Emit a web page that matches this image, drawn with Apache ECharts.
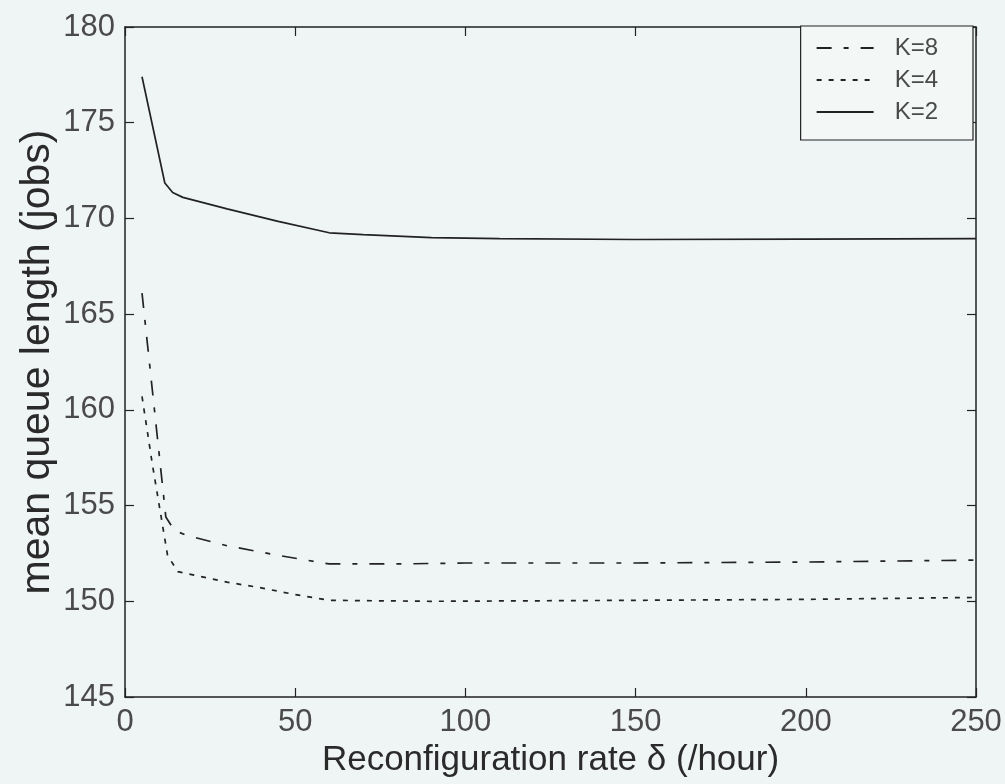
<!DOCTYPE html>
<html>
<head>
<meta charset="utf-8">
<script src="https://cdn.jsdelivr.net/npm/echarts@6/dist/echarts.min.js"></script>
<style>
  html, body { margin: 0; padding: 0; background: #eff5f4; }
  #chart { width: 1005px; height: 784px; }
</style>
</head>
<body>
<div id="chart"></div>
<script>
// Reconfiguration rate (per hour) vs. mean queue length, for three K values
const seriesNames = ['K=8', 'K=4', 'K=2'];

const k8 = [
  [5, 166.1], [12, 154.4], [14.5, 153.7], [18, 153.45], [30, 152.9],
  [45, 152.4], [60, 151.95], [80, 151.95], [100, 152.0], [150, 152.0],
  [200, 152.05], [250, 152.15]
];
const k4 = [
  [5, 160.7], [8, 157.2], [12.5, 152.4], [15.5, 151.55], [22, 151.3],
  [30, 151.0], [40, 150.7], [50, 150.35], [60, 150.05], [90, 150.0],
  [150, 150.05], [200, 150.1], [250, 150.2]
];
const k2 = [
  [5, 177.4], [11.7, 171.85], [14, 171.35], [17, 171.1], [30, 170.5],
  [45, 169.85], [60, 169.25], [70, 169.15], [90, 169.0], [110, 168.95],
  [150, 168.9], [200, 168.92], [250, 168.95]
];

const xTicks = { min: 0, max: 250, interval: 50 };
const yTicks = { min: 145, max: 180, interval: 5 };

const ink = '#222';
const textFont = 'Liberation Sans, Arial, sans-serif';

const chart = echarts.init(document.getElementById('chart'), null, { renderer: 'canvas' });

const lineStyles = [
  { type: [15, 12, 5, 12] },  // dash-dot
  { type: [5, 7] },           // dotted
  { type: 'solid' }
];
const dataSets = [k8, k4, k2];

// box frame: every axis keeps to its own side, ticks point into the plot
const tick = { show: true, inside: true, length: 9, lineStyle: { color: ink, width: 1.2 } };
const frameLine = { show: true, onZero: false, lineStyle: { color: ink, width: 1.5 } };

chart.setOption({
  backgroundColor: '#eff5f4',
  animation: false,
  grid: { left: 125, right: 29, top: 27, bottom: 87, containLabel: false },
  legend: {
    right: 32, top: 26,
    orient: 'vertical',
    data: seriesNames,
    backgroundColor: '#f3f8f7',
    borderColor: ink,
    borderWidth: 1.2,
    borderRadius: 0,
    padding: [10, 35, 16, 15],
    itemWidth: 57,
    itemHeight: 24,
    itemGap: 8,
    itemStyle: { color: 'transparent', borderWidth: 0, opacity: 0 },
    textStyle: { fontFamily: textFont, fontSize: 24, color: '#4a4a4a', padding: [0, 0, 0, 16] }
  },
  xAxis: [{
    type: 'value',
    min: xTicks.min, max: xTicks.max, interval: xTicks.interval,
    name: 'Reconfiguration rate δ (/hour)',
    nameLocation: 'middle',
    nameGap: 46,
    nameMoveOverlap: false,
    nameTextStyle: { fontFamily: textFont, fontSize: 35, color: '#2a2a2a' },
    axisLine: frameLine,
    axisTick: tick,
    axisLabel: { fontFamily: textFont, fontSize: 31, color: '#4a4a4a', margin: 10 },
    splitLine: { show: false }
  }, {
    type: 'value', position: 'top',
    min: xTicks.min, max: xTicks.max, interval: xTicks.interval,
    axisLine: frameLine,
    axisTick: tick,
    axisLabel: { show: false },
    splitLine: { show: false }
  }],
  yAxis: [{
    type: 'value',
    min: yTicks.min, max: yTicks.max, interval: yTicks.interval,
    name: 'mean queue length (jobs)',
    nameLocation: 'middle',
    nameGap: 67,
    nameMoveOverlap: false,
    nameTextStyle: { fontFamily: textFont, fontSize: 41, color: '#2a2a2a' },
    axisLine: frameLine,
    axisTick: tick,
    axisLabel: { fontFamily: textFont, fontSize: 31, color: '#4a4a4a', margin: 10 },
    splitLine: { show: false }
  }, {
    type: 'value', position: 'right',
    min: yTicks.min, max: yTicks.max, interval: yTicks.interval,
    axisLine: frameLine,
    axisTick: tick,
    axisLabel: { show: false },
    splitLine: { show: false }
  }],
  series: seriesNames.map((name, i) => ({
    name,
    type: 'line',
    data: dataSets[i],
    showSymbol: false,
    symbol: 'none',
    lineStyle: Object.assign({ color: ink, width: 1.7 }, lineStyles[i]),
    itemStyle: { color: ink }
  }))
});
</script>
</body>
</html>
